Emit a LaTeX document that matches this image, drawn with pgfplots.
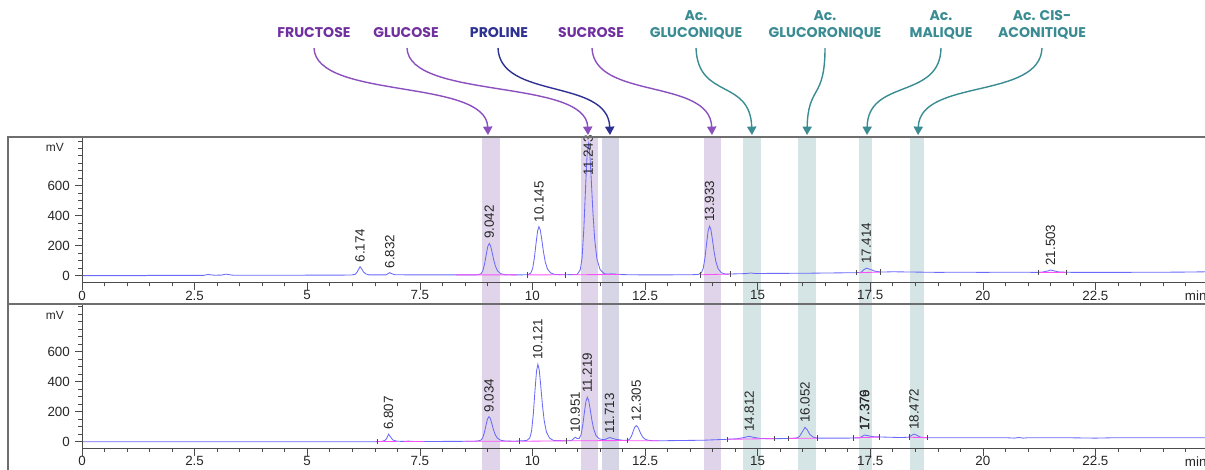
\documentclass[border=0pt]{standalone}
\usepackage{pgfplots}
\pgfplotsset{compat=1.18}
\usepackage{fontspec}
\setmainfont{Liberation Sans}
\newfontfamily\labfont{Poppins}
\usetikzlibrary{arrows.meta}
\definecolor{trace}{RGB}{105,105,250}
\definecolor{basel}{RGB}{250,80,250}
\definecolor{bandP}{RGB}{223,212,233}
\definecolor{bandN}{RGB}{213,213,230}
\definecolor{bandT}{RGB}{213,229,229}
\definecolor{purp}{RGB}{112,48,160}
\definecolor{purpA}{RGB}{140,80,190}
\definecolor{navy}{RGB}{46,49,146}
\definecolor{tealc}{RGB}{58,140,146}
\definecolor{framec}{RGB}{110,110,110}
\pgfplotsset{chrom/.style={
  scale only axis, width=281.5mm, xmin=0, xmax=25,
  axis x line=bottom, axis y line=left,
  axis line style={-, draw=black!70, line width=0.35pt},
  tick align=outside, major tick length=1.8mm, minor tick length=0.9mm,
  every tick/.style={black!70, line width=0.35pt},
  xtick={0,2.5,5,7.5,10,12.5,15,17.5,20,22.5,25},
  xticklabels={0,2.5,5,7.5,10,12.5,15,17.5,20,22.5,\makebox[0pt][r]{min\hspace{0.4mm}}},
  minor xtick={0.5,1,1.5,2,3,3.5,4,4.5,5.5,6,6.5,7,8,8.5,9,9.5,10.5,11,11.5,12,13,13.5,14,14.5,15.5,16,16.5,17,18,18.5,19,19.5,20.5,21,21.5,22,23,23.5,24,24.5},
  ytick={0,200,400,600}, yticklabels={0,200,400,600},
  minor ytick={50,100,150,250,300,350,450,500,550,650,700,750,800,850,900},
  tick label style={font=\fontsize{9.5}{11}\selectfont, text=black!85},
  xticklabel style={inner sep=0.4pt},
  clip=false, axis on top, unbounded coords=jump,
}}
\newcommand{\pk}[3]{\node[rotate=90, anchor=west, inner xsep=3pt, inner ysep=0pt, font=\fontsize{9.5}{11}\selectfont, text=black!85] at (axis cs:#1,#2) {#3};}
\begin{document}
\begin{tikzpicture}
% ---------------- top chromatogram ----------------
\begin{axis}[chrom, at={(20.5mm,-70.675mm)}, anchor=south west, height=36.425mm, ymin=-47, ymax=925]
\fill[bandP] (axis cs:8.87,-189) rectangle (axis cs:9.27,925);
\fill[bandP] (axis cs:11.08,-189) rectangle (axis cs:11.45,925);
\fill[bandN] (axis cs:11.55,-189) rectangle (axis cs:11.93,925);
\fill[bandP] (axis cs:13.81,-189) rectangle (axis cs:14.18,925);
\fill[bandT] (axis cs:14.68,-189) rectangle (axis cs:15.07,925);
\fill[bandT] (axis cs:15.90,-189) rectangle (axis cs:16.30,925);
\fill[bandT] (axis cs:17.25,-189) rectangle (axis cs:17.55,925);
\fill[bandT] (axis cs:18.38,-189) rectangle (axis cs:18.70,925);
\addplot[trace, line width=0.6pt] coordinates {
(0,0)(1.4,0)(1.45,2)(2.7,2)(2.75,5)(2.8,8)(2.87,5)(2.95,3)(3.1,4)(3.16,8)(3.2,10)(3.26,7)(3.35,3)(4.5,3)(5.9,4)
(6.0,5)(6.07,10)(6.11,25)(6.14,42)(6.174,60)(6.21,45)(6.25,25)(6.30,12)(6.38,5)
(6.75,5)(6.80,14)(6.832,20)(6.87,14)(6.95,6)(7.5,5)(8.7,5)
(8.79,6)(8.86,13)(8.90,33)(8.94,81)(8.98,150)(9.01,196)(9.042,215)(9.07,200)(9.10,163)(9.14,106)(9.18,62)(9.23,30)(9.30,13)(9.39,7)(9.6,5)
(9.895,6)(9.965,18)(10.005,47)(10.045,121)(10.085,227)(10.115,298)(10.145,327)(10.175,304)(10.205,247)(10.245,160)(10.285,92)(10.335,44)(10.405,18)(10.495,8)(10.7,6)
(10.993,8)(11.063,40)(11.103,119)(11.143,320)(11.183,609)(11.213,801)(11.243,880)(11.273,819)(11.303,661)(11.343,425)(11.383,241)(11.433,110)(11.503,40)(11.593,14)
(11.65,10)(11.75,12)(11.85,10)(12.0,7)(12.5,5)(13.5,6)
(13.683,8)(13.753,20)(13.793,49)(13.833,123)(13.873,230)(13.903,301)(13.933,330)(13.963,307)(13.993,249)(14.033,162)(14.073,94)(14.123,46)(14.193,20)(14.283,10)
(14.5,12)(14.75,14)(14.85,18)(14.95,14)(15.2,15)(16.0,16)(17.2,20)
(17.30,22)(17.36,40)(17.414,50)(17.50,42)(17.6,30)(17.75,24)(18.0,26)(18.5,24)(19.0,22)(19.5,23)(20,22)(20.5,23)(21.3,22)
(21.45,32)(21.503,38)(21.58,32)(21.7,24)(22,22)(23,22)(24,23)(24.5,24)(25,26)};
\addplot[basel, line width=0.6pt] coordinates {
(8.3,5)(9.65,5)(9.7,nan)(9.88,5)(10.73,6)(10.8,nan)(10.85,6)(11.95,8)(12,nan)(13.72,6)(14.4,11)(14.5,nan)(17.25,20)(17.73,24)(17.8,nan)(21.23,22)(21.85,22)};
\addplot[only marks, mark=|, mark size=0.7mm, black!70, mark options={line width=0.35pt}] coordinates {
(9.88,5)(10.73,6)(13.72,6)(14.4,11)(17.2,20)(17.73,24)(21.23,22)(21.85,22)};
\pk{6.174}{60}{6.174}
\pk{6.832}{20}{6.832}
\pk{9.042}{215}{9.042}
\pk{10.145}{327}{10.145}
\pk{11.243}{640}{11.243}
\pk{13.933}{330}{13.933}
\pk{17.414}{50}{17.414}
\pk{21.503}{38}{21.503}
\node[anchor=north east, font=\fontsize{8.5}{10}\selectfont, text=black!85] at (rel axis cs:0,1) [xshift=-3.3mm, yshift=-0.4mm] {mV};
\end{axis}
% ---------------- bottom chromatogram ----------------
\begin{axis}[chrom, at={(20.5mm,-112.075mm)}, anchor=south west, height=36mm, ymin=-44, ymax=916]
\fill[bandP] (axis cs:8.87,-200) rectangle (axis cs:9.27,916);
\fill[bandP] (axis cs:11.08,-200) rectangle (axis cs:11.45,916);
\fill[bandN] (axis cs:11.55,-200) rectangle (axis cs:11.93,916);
\fill[bandP] (axis cs:13.81,-200) rectangle (axis cs:14.18,916);
\fill[bandT] (axis cs:14.68,-200) rectangle (axis cs:15.07,916);
\fill[bandT] (axis cs:15.90,-200) rectangle (axis cs:16.30,916);
\fill[bandT] (axis cs:17.25,-200) rectangle (axis cs:17.55,916);
\fill[bandT] (axis cs:18.38,-200) rectangle (axis cs:18.70,916);
\addplot[trace, line width=0.6pt] coordinates {
(0,0)(6.5,0)(6.65,2)(6.72,8)(6.76,20)(6.807,50)(6.85,32)(6.9,12)(6.98,4)(7.1,2)(7.25,4)(7.35,2)(8.0,2)(8.7,3)
(8.784,5)(8.854,10)(8.894,24)(8.934,62)(8.974,116)(9.004,152)(9.034,167)(9.064,156)(9.094,126)(9.134,82)(9.174,47)(9.224,23)(9.294,10)(9.384,5)(9.6,3)
(9.871,8)(9.941,24)(9.981,70)(10.021,188)(10.061,357)(10.091,470)(10.121,516)(10.151,480)(10.181,388)(10.221,249)(10.261,142)(10.311,65)(10.381,24)(10.471,8)(10.8,6)
(10.88,10)(10.92,22)(10.951,30)(10.99,22)(11.039,22)(11.079,45)(11.119,112)(11.159,207)(11.189,270)(11.219,296)(11.249,276)(11.279,224)(11.319,146)(11.359,86)(11.409,43)(11.479,20)(11.569,14)
(11.62,16)(11.68,24)(11.713,28)(11.76,24)(11.85,16)(12.0,10)
(12.125,10)(12.165,19)(12.205,42)(12.245,76)(12.275,98)(12.305,107)(12.335,100)(12.365,82)(12.405,54)(12.445,33)(12.495,18)(12.565,10)(12.655,7)
(13.0,7)(13.8,10)(14.3,16)(14.55,20)(14.7,28)(14.812,36)(14.9,30)(15.05,22)(15.3,20)(15.75,22)
(15.87,25)(15.93,35)(15.98,60)(16.052,96)(16.10,80)(16.16,48)(16.24,30)(16.35,24)(17.0,24)(17.25,26)
(17.30,32)(17.376,45)(17.45,40)(17.55,34)(17.7,32)(17.9,30)(18.2,28)(18.35,30)
(18.42,42)(18.472,51)(18.53,44)(18.6,32)(18.7,27)(19,27)(20.5,27)(20.7,24)(20.8,28)(20.9,24)(21,27)(22,26)(22.5,24)(23,27)(25,27)};
\addplot[basel, line width=0.6pt] coordinates {
(6.54,1)(6.99,1)(7.05,nan)(7.15,1)(7.6,1)(7.7,nan)(8.5,3)(9.7,3)(9.72,nan)(9.75,3)(10.75,6)(10.77,nan)(10.8,6)(12.1,8)(12.11,nan)(12.12,6)(12.8,7)(12.9,nan)
(14.32,16)(15.38,21)(15.5,nan)(15.68,22)(16.32,24)(16.4,nan)(17.12,26)(17.7,31)(17.8,nan)(18.36,30)(18.76,27)};
\addplot[only marks, mark=|, mark size=0.7mm, black!70, mark options={line width=0.35pt}] coordinates {
(6.55,1)(9.7,3)(10.75,6)(12.1,8)(14.32,16)(15.38,21)(15.68,22)(16.32,24)(17.12,26)(17.7,31)(18.36,30)(18.76,27)};
\pk{6.807}{50}{6.807}
\pk{9.034}{167}{9.034}
\pk{10.121}{516}{10.121}
\pk{10.951}{30}{10.951}
\pk{11.219}{296}{11.219}
\pk{11.713}{28}{11.713}
\pk{12.305}{107}{12.305}
\pk{14.812}{36}{14.812}
\pk{16.052}{96}{16.052}
\pk{17.376}{45}{17.376}
\pk{17.379}{45}{17.379}
\pk{18.472}{51}{18.472}
\node[anchor=north east, font=\fontsize{8.5}{10}\selectfont, text=black!85] at (rel axis cs:0,1) [xshift=-3.3mm, yshift=-0.4mm] {mV};
\end{axis}
% ---------------- frames and annotations ----------------
\begin{scope}[x=0.25mm, y=-0.25mm]
\draw[framec, line width=0.3mm] (8,137) rectangle (1230,304);
\draw[framec, line width=0.3mm] (8,304) rectangle (1230,490);
\tikzset{lab/.style={font=\labfont\bfseries\fontsize{10}{12.2}\selectfont, align=center, inner sep=0pt},
  arr/.style={line width=0.35mm, -{Triangle[width=2.3mm,length=2.1mm]}}}
\node[lab, text=purp] at (314,33) {FRUCTOSE};
\node[lab, text=purp] at (406,33) {GLUCOSE};
\node[lab, text=navy] at (499,33) {PROLINE};
\node[lab, text=purp] at (591,33) {SUCROSE};
\node[lab, text=tealc] at (696,25) {Ac.\\GLUCONIQUE};
\node[lab, text=tealc] at (825,25) {Ac.\\GLUCORONIQUE};
\node[lab, text=tealc] at (941,25) {Ac.\\MALIQUE};
\node[lab, text=tealc] at (1042,25) {Ac. CIS-\\ACONITIQUE};
\draw[arr, purpA] (314,48) .. controls (316,100) and (486,78) .. (488,135);
\draw[arr, purpA] (407,48) .. controls (409,100) and (586,78) .. (588,135);
\draw[arr, navy] (498,48) .. controls (500,100) and (608,78) .. (610,135);
\draw[arr, purpA] (592,48) .. controls (594,100) and (710,78) .. (712,135);
\draw[arr, tealc] (696,48) .. controls (698,100) and (750,78) .. (752,135);
\draw[arr, tealc] (825,48) .. controls (825,100) and (808,85) .. (807,135);
\draw[arr, tealc] (941,48) .. controls (940,100) and (868,78) .. (867,135);
\draw[arr, tealc] (1042,48) .. controls (1040,100) and (920,78) .. (918,135);
\pgfresetboundingbox
\path[use as bounding box] (0,0) rectangle (1205,469);
\end{scope}
\end{tikzpicture}
\end{document}
